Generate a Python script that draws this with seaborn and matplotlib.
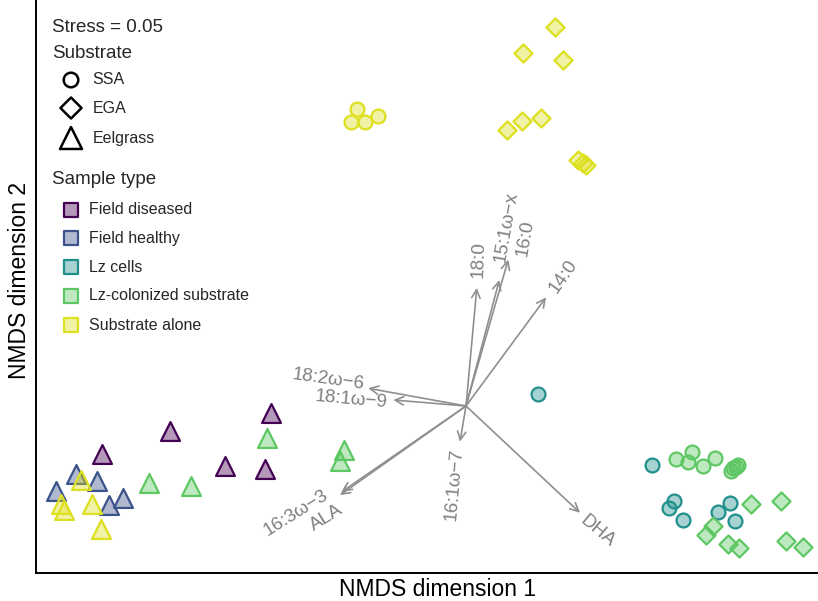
import matplotlib
matplotlib.use('Agg')
import matplotlib.pyplot as plt
import seaborn as sns
import pandas as pd
from matplotlib.colors import to_rgba

# NMDS scores, one pair of lists per sample type / substrate group
dis_eel_x = [-1.213, -0.987, -0.649, -0.802, -0.669]
dis_eel_y = [-0.160, -0.082, -0.022, -0.200, -0.211]

hea_eel_x = [-1.301, -1.231, -1.368, -1.142, -1.189]
hea_eel_y = [-0.227, -0.249, -0.282, -0.306, -0.330]

cells_ssa_x = [0.240, 0.621, 0.694, 0.677, 0.724, 0.880, 0.841, 0.898]
cells_ssa_y = [0.040, -0.196, -0.316, -0.341, -0.380, -0.324, -0.352, -0.383]

col_ssa_x = [0.699, 0.753, 0.740, 0.791, 0.830, 0.883, 0.891, 0.899, 0.906]
col_ssa_y = [-0.177, -0.152, -0.188, -0.200, -0.174, -0.216, -0.208, -0.202, -0.197]

col_ega_x = [0.949, 1.050, 0.824, 0.800, 0.872, 0.910, 1.067, 1.123]
col_ega_y = [-0.328, -0.318, -0.399, -0.430, -0.460, -0.474, -0.450, -0.470]

col_eel_x = [-0.664, -1.056, -0.917, -0.406, -0.420]
col_eel_y = [-0.106, -0.258, -0.267, -0.147, -0.183]

alone_ssa_x = [-0.364, -0.383, -0.338, -0.294]
alone_ssa_y = [0.989, 0.948, 0.948, 0.968]

alone_ega_x = [0.298, 0.190, 0.322, 0.136, 0.188, 0.250, 0.374, 0.389, 0.400]
alone_ega_y = [1.262, 1.176, 1.153, 0.920, 0.950, 0.960, 0.820, 0.809, 0.803]

alone_eel_x = [-1.283, -1.349, -1.339, -1.248, -1.217]
alone_eel_y = [-0.247, -0.327, -0.347, -0.327, -0.411]

# fatty acid vectors
fa_names = ['18:0', '15:1ω−x', '16:0', '14:0', '18:2ω−6', '18:1ω−9',
            '16:1ω−7', '16:3ω−3', 'ALA', 'DHA']
fa_x = [0.036, 0.111, 0.141, 0.267, -0.326, -0.242, -0.020, -0.420, -0.414, 0.380]
fa_y = [0.394, 0.420, 0.488, 0.362, 0.059, 0.020, -0.119, -0.297, -0.286, -0.356]
fa_lab_x = [0.041, 0.136, 0.198, 0.325, -0.460, -0.382, -0.038, -0.566, -0.466, 0.440]
fa_lab_y = [0.487, 0.598, 0.559, 0.432, 0.088, 0.021, -0.262, -0.357, -0.374, -0.418]
fa_rot = [88, 80, 80, 55, -8, -5, 85, 32, 32, -40]

sample_types = ['Field diseased', 'Field healthy', 'Lz cells',
                'Lz-colonized substrate', 'Substrate alone']
substrates = ['SSA', 'EGA', 'Eelgrass']
stress = 0.05

groups = [
    ('Field diseased', 'Eelgrass', dis_eel_x, dis_eel_y),
    ('Field healthy', 'Eelgrass', hea_eel_x, hea_eel_y),
    ('Lz cells', 'SSA', cells_ssa_x, cells_ssa_y),
    ('Lz-colonized substrate', 'SSA', col_ssa_x, col_ssa_y),
    ('Lz-colonized substrate', 'EGA', col_ega_x, col_ega_y),
    ('Lz-colonized substrate', 'Eelgrass', col_eel_x, col_eel_y),
    ('Substrate alone', 'SSA', alone_ssa_x, alone_ssa_y),
    ('Substrate alone', 'EGA', alone_ega_x, alone_ega_y),
    ('Substrate alone', 'Eelgrass', alone_eel_x, alone_eel_y),
]
rows = []
for stype, sub, xs, ys in groups:
    for x, y in zip(xs, ys):
        rows.append({'NMDS1': x, 'NMDS2': y, 'type': stype, 'substrate': sub})
df = pd.DataFrame(rows)

palette = dict(zip(sample_types, ['#440154', '#3B528B', '#21908C', '#5DC863', '#DDE01E']))
markers = {'SSA': 'o', 'EGA': 'D', 'Eelgrass': '^'}
sizes = {'SSA': 100, 'EGA': 85, 'Eelgrass': 185}

sns.set_theme(style='white')
plt.rcParams['font.family'] = ['Liberation Sans', 'DejaVu Sans']

fig = plt.figure(figsize=(8.18, 6.01), dpi=100)
ax = fig.add_axes([36 / 818, 28 / 601, 782 / 818, 573 / 601])

# vectors first, points on top
arrow_col = '#8f8f8f'
for name, vx, vy, lx, ly, rot in zip(fa_names, fa_x, fa_y, fa_lab_x, fa_lab_y, fa_rot):
    ax.annotate('', xy=(vx, vy), xytext=(0, 0),
                arrowprops=dict(arrowstyle='->', color=arrow_col, lw=1.2,
                                mutation_scale=15, shrinkA=0, shrinkB=0))
    ax.text(lx, ly, name, color='#7f7f7f', fontsize=13.5, rotation=rot,
            ha='center', va='center', rotation_mode='anchor')

for (stype, sub), grp in df.groupby(['type', 'substrate'], sort=False):
    edge = palette[stype]
    sns.scatterplot(data=grp, x='NMDS1', y='NMDS2', ax=ax, marker=markers[sub],
                    s=sizes[sub], color=to_rgba(edge, 0.4), edgecolor=edge,
                    linewidth=1.6, legend=False, zorder=3)

ax.set_xlim(-1.4333, 1.1733)
ax.set_ylim(-0.5567, 1.3533)
ax.set_xticks([])
ax.set_yticks([])
sns.despine(ax=ax)
for side in ['left', 'bottom']:
    ax.spines[side].set_color('black')
    ax.spines[side].set_linewidth(1.4)
ax.set_xlabel('NMDS dimension 1', fontsize=16.5, color='black')
ax.set_ylabel('NMDS dimension 2', fontsize=16.5, color='black')
ax.xaxis.set_label_coords(0.514, -0.008, transform=ax.transAxes)
ax.yaxis.set_label_coords(-0.007, 0.511, transform=ax.transAxes)

# hand-built legend in the upper-left corner (figure pixel coords -> fraction)
def fx(px):
    return px / 818

def fy(py):
    return 1 - py / 601

tf = fig.transFigure
fig.text(fx(52), fy(27), 'Stress = {:.2f}'.format(stress), fontsize=13.5, va='center')
fig.text(fx(52), fy(53), 'Substrate', fontsize=13.5, va='center')
sub_y = [80, 108, 138]
sub_s = [110, 115, 250]
for sub, py, s in zip(substrates, sub_y, sub_s):
    ax.scatter([fx(71)], [fy(py)], transform=tf, marker=markers[sub], s=s,
               facecolor='none', edgecolor='black', linewidth=1.8, clip_on=False)
    fig.text(fx(92.5), fy(py), sub, fontsize=11.5, va='center')

fig.text(fx(52), fy(180), 'Sample type', fontsize=13.5, va='center')
type_y = [210, 238, 267, 296, 325]
for stype, py in zip(sample_types, type_y):
    ax.scatter([fx(71)], [fy(py)], transform=tf, marker='s', s=115,
               facecolor=to_rgba(palette[stype], 0.4), edgecolor=palette[stype],
               linewidth=1.6, clip_on=False)
    fig.text(fx(89), fy(py), stype, fontsize=11.5, va='center')

plt.savefig('out.png', dpi=100)
plt.close('all')
